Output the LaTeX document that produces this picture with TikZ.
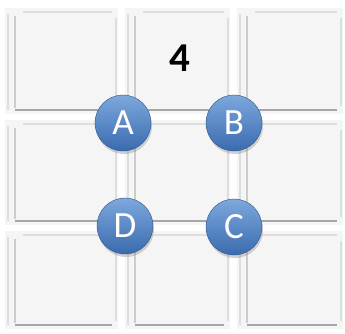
\documentclass[tikz,border=0pt]{standalone}
\usepackage{fontspec}
\setmainfont{Carlito}
\usetikzlibrary{shadows}
\definecolor{tilefill}{HTML}{F5F5F5}
\definecolor{balltop}{HTML}{7DA8DD}
\definecolor{ballbot}{HTML}{3A6BAE}
\tikzset{
  tileline/.style={draw=black!20, line width=1.6pt},
  tileshade/.style={draw=black!35, line width=2.4pt},
  tilelight/.style={draw=black!13, line width=1.2pt},
  ballnode/.style={circle, minimum size=56pt, inner sep=0pt,
    top color=balltop, bottom color=ballbot, draw=ballbot!80!black, line width=0.4pt,
    drop shadow={shadow xshift=1pt, shadow yshift=-3pt, opacity=0.35},
    text=white, font=\fontsize{37}{37}\selectfont},
  numlabel/.style={font=\fontsize{41}{41}\selectfont\bfseries, text=black, inner sep=0pt}
}
\newcommand{\mytile}[4]{%
  \fill[tilefill] (#1,#2) rectangle (#3,#4);
  \draw[tilelight] (#1+3,#2+6) -- (#1+3,#4-4);
  \draw[tileline] (#1+10,#2+8) -- (#1+10,#4-6);
  \draw[tilelight] (#1+18,#2+4) -- (#3-6,#2+4);
  \draw[tileshade] (#1+10,#4-4) -- (#3-6,#4-4);
  \draw[tilelight] (#3-2,#2+10) -- (#3-2,#4-8);
}
\begin{document}
\begin{tikzpicture}[x=1pt,y=-1pt]
\useasboundingbox (0,0) rectangle (345,333);
\fill[white] (0,0) rectangle (345,333);
\mytile{5}{8}{118}{114}
\mytile{125}{8}{230}{114}
\mytile{237}{8}{343}{114}
\mytile{5}{120}{118}{225}
\mytile{125}{120}{230}{225}
\mytile{237}{120}{343}{225}
\mytile{5}{231}{118}{329}
\mytile{125}{231}{230}{329}
\mytile{237}{231}{343}{329}
\node[numlabel] (n4) at (180,58) {4};
\node[ballnode] (A) at (123,123) {A};
\node[ballnode] (B) at (234,123) {B};
\node[ballnode] (D) at (125,226) {D};
\node[ballnode] (C) at (234,227) {C};
\end{tikzpicture}
\end{document}
